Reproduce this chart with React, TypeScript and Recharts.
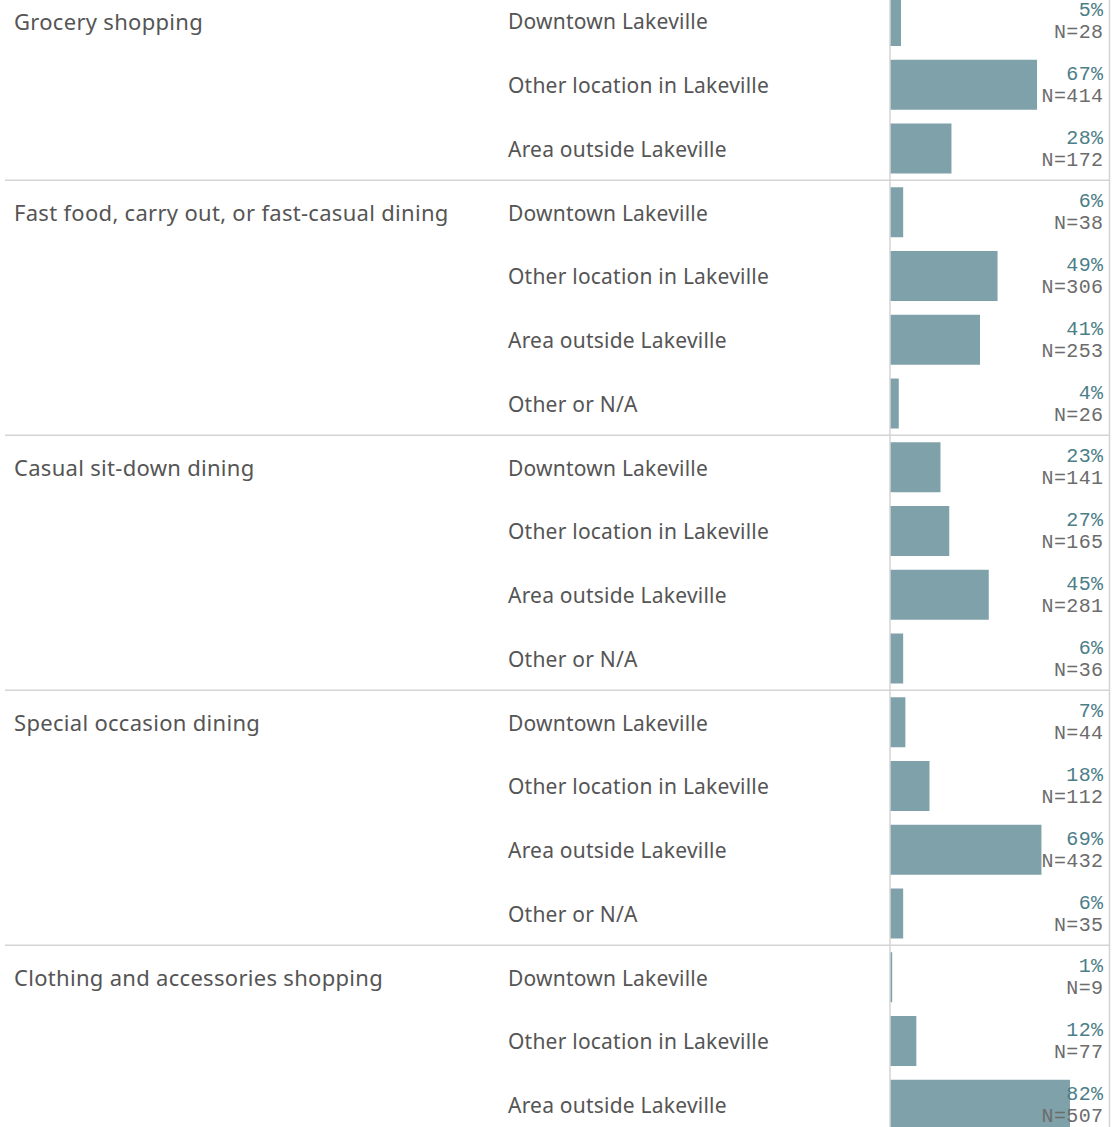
import React from 'react';
import { Bar, BarChart, LabelList, ReferenceLine, XAxis, YAxis } from 'recharts';

const groups = [
    'Grocery shopping',
    'Fast food, carry out, or fast-casual dining',
    'Casual sit-down dining',
    'Special occasion dining',
    'Clothing and accessories shopping',
];

const groupLocations = [
    ['Downtown Lakeville', 'Other location in Lakeville', 'Area outside Lakeville'],
    ['Downtown Lakeville', 'Other location in Lakeville', 'Area outside Lakeville', 'Other or N/A'],
    ['Downtown Lakeville', 'Other location in Lakeville', 'Area outside Lakeville', 'Other or N/A'],
    ['Downtown Lakeville', 'Other location in Lakeville', 'Area outside Lakeville', 'Other or N/A'],
    ['Downtown Lakeville', 'Other location in Lakeville', 'Area outside Lakeville'],
];

const groupPercents = [
    [5, 67, 28],
    [6, 49, 41, 4],
    [23, 27, 45, 6],
    [7, 18, 69, 6],
    [1, 12, 82],
];

const groupCounts = [
    [28, 414, 172],
    [38, 306, 253, 26],
    [141, 165, 281, 36],
    [44, 112, 432, 35],
    [9, 77, 507],
];

const rows = groups.flatMap((group, g) =>
    groupLocations[g].map((location, i) => ({
        key: `${g}-${i}`,
        group,
        location,
        first: i === 0,
        groupIndex: g,
        pct: groupPercents[g][i],
        n: groupCounts[g][i],
    }))
);

const ROW_H = 63.75;
const WIDTH = 1120;
const HEIGHT = rows.length * ROW_H;
const PANE_LEFT = 890;
const PANE_RIGHT = 1109.5;
const TEXT = '#555555';
const GRID = '#d4d4d4';
const BAR = '#7fa2aa';
const SANS = '"Noto Sans", sans-serif';
const MONO = '"Liberation Mono", monospace';

// row labels + group headers + group separators all drawn from the y-axis ticks
const RowTick = (props: any) => {
    const { y, payload } = props;
    const row = rows[payload.index];
    if (!row) return null;
    return (
        <g>
            {row.first && row.groupIndex > 0 && (
                <line x1={5} x2={PANE_RIGHT} y1={y - ROW_H / 2} y2={y - ROW_H / 2} stroke={GRID} strokeWidth={1.5} />
            )}
            {row.first && (
                <text x={14} y={y} dy={9} fill={TEXT} fontSize={22} letterSpacing={0.3} fontFamily={SANS}>
                    {row.group}
                </text>
            )}
            <text x={508} y={y} dy={8.5} fill={TEXT} fontSize={21} letterSpacing={0.22} fontFamily={SANS}>
                {row.location}
            </text>
        </g>
    );
};

const ValueLabel = (props: any) => {
    const { y, index } = props;
    const row = rows[index];
    return (
        <g>
            <text x={PANE_RIGHT - 6} y={y + 20} textAnchor="end" fill="#4c7e88" fontSize={20} letterSpacing={0.4} fontFamily={MONO}>
                {`${row.pct}%`}
            </text>
            <text x={PANE_RIGHT - 6} y={y + 42} textAnchor="end" fill="#6c6c6c" fontSize={20} letterSpacing={0.4} fontFamily={MONO}>
                {`N=${row.n}`}
            </text>
        </g>
    );
};

export default function App() {
    return (
        <div style={{ position: 'fixed', top: 0, left: 0, width: WIDTH, height: 1127, overflow: 'hidden', background: '#fff' }}>
            <div style={{ marginTop: -11.25 }}>
                <BarChart
                    width={WIDTH}
                    height={HEIGHT}
                    data={rows}
                    layout="vertical"
                    margin={{ top: 0, right: WIDTH - PANE_RIGHT, bottom: 0, left: 0 }}
                    barSize={50}
                >
                    <XAxis type="number" domain={[0, 100]} hide />
                    <YAxis
                        type="category"
                        dataKey="key"
                        width={PANE_LEFT}
                        tickLine={false}
                        axisLine={{ stroke: GRID, strokeWidth: 1.5 }}
                        tick={<RowTick />}
                        interval={0}
                    />
                    <ReferenceLine x={100} stroke={GRID} strokeWidth={1.5} />
                    <Bar dataKey="pct" fill={BAR} isAnimationActive={false}>
                        <LabelList dataKey="pct" content={<ValueLabel />} />
                    </Bar>
                </BarChart>
            </div>
        </div>
    );
}
